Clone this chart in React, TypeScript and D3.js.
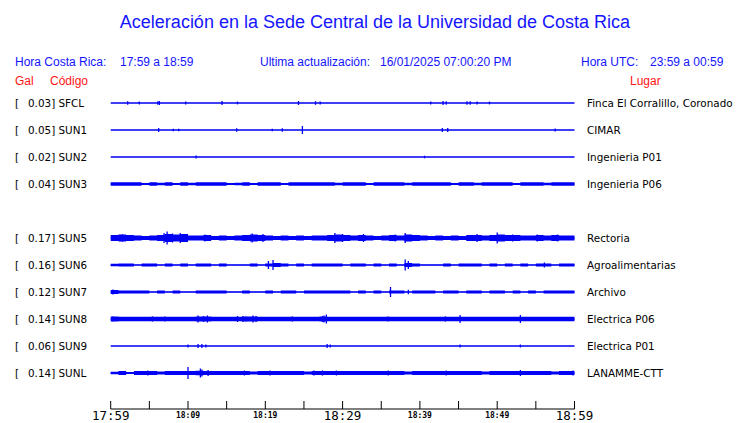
import React from 'react'
import * as d3 from 'd3'

// ---- data ----
const title = 'Aceleración en la Sede Central de la Universidad de Costa Rica'
const localRange = '17:59 a 18:59'
const utcRange = '23:59 a 00:59'
const lastUpdate = '16/01/2025 07:00:20 PM'

// every slot on the sheet, SUN4 has no trace today
const stationSlots = ['SFCL', 'SUN1', 'SUN2', 'SUN3', 'SUN4', 'SUN5', 'SUN6', 'SUN7', 'SUN8', 'SUN9', 'SUNL']
const codes = ['SFCL', 'SUN1', 'SUN2', 'SUN3', 'SUN5', 'SUN6', 'SUN7', 'SUN8', 'SUN9', 'SUNL']
const peakGal = [0.03, 0.05, 0.02, 0.04, 0.17, 0.16, 0.12, 0.14, 0.06, 0.14]
const places = [
  'Finca El Corralillo, Coronado',
  'CIMAR',
  'Ingenieria P01',
  'Ingenieria P06',
  'Rectoria',
  'Agroalimentarias',
  'Archivo',
  'Electrica P06',
  'Electrica P01',
  'LANAMME-CTT',
]

// quiet level of each trace (relative amplitude)
const baseAmp = [0.75, 0.75, 0.75, 0.75, 0.75, 0.6, 0.6, 0.75, 0.75, 0.75]

// per-minute envelopes (relative amplitude), only for the noisy traces
const envSUN3 = [
  1.8, 1.7, 1.7, 1.7, 1.1, 1.7, 1.3, 1.7, 1.1, 1.7, 1.3, 1.7, 1.7, 1.7, 1.7, 1.1, 1.3, 1.7, 1.1, 1.7,
  1.7, 1.7, 1.1, 1.7, 1.7, 1.7, 1.7, 1.7, 1.7, 1.3, 1.7, 1.7, 1.7, 1.1, 1.7, 1.7, 1.7, 1.7, 1.3, 1.7,
  1.7, 1.7, 1.7, 1.7, 1.1, 1.7, 1.7, 1.3, 1.7, 1.7, 1.7, 1.7, 1.1, 1.7, 1.7, 1.7, 1.3, 1.7, 1.7, 1.7,
]
const envSUN5 = [
  3.0, 3.5, 3.0, 2.5, 2.0, 2.5, 3.0, 4.0, 3.5, 4.0, 2.5, 2.5, 3.0, 2.0, 2.5, 2.0, 2.5, 3.0, 3.5, 3.0,
  2.5, 2.0, 2.5, 2.0, 2.5, 2.0, 2.5, 2.5, 3.0, 3.5, 3.0, 2.5, 3.0, 2.5, 2.0, 2.5, 3.0, 2.5, 3.5, 3.0,
  2.5, 2.0, 2.5, 2.0, 2.5, 2.0, 3.0, 3.0, 2.5, 3.0, 3.5, 3.0, 3.0, 2.5, 2.5, 3.0, 2.5, 3.0, 2.5, 2.5,
]
const envSUN6 = [
  1.3, 1.5, 1.5, 0.6, 1.5, 1.5, 0.6, 1.5, 0.6, 1.5, 0.6, 1.5, 1.5, 0.6, 1.5, 0.6, 0.6, 0.6, 1.5, 0.6,
  1.5, 2.0, 1.5, 0.6, 1.5, 0.6, 1.5, 1.5, 1.5, 1.5, 0.6, 1.5, 1.5, 0.6, 1.5, 0.6, 1.5, 0.6, 2.0, 1.5,
  0.6, 0.6, 0.6, 1.5, 0.6, 1.5, 1.5, 1.5, 0.6, 1.5, 0.6, 1.5, 0.6, 1.5, 0.6, 1.5, 1.5, 0.6, 1.5, 1.5,
]
const envSUN7 = [
  2.0, 1.6, 1.6, 1.6, 1.6, 0.6, 1.6, 0.6, 1.6, 0.6, 0.6, 1.6, 1.6, 1.6, 1.6, 0.6, 0.6, 1.6, 0.6, 0.6,
  1.6, 0.6, 1.6, 1.6, 0.6, 1.6, 1.6, 1.6, 1.6, 1.6, 1.6, 0.6, 1.6, 0.6, 1.6, 0.6, 1.6, 1.6, 0.6, 1.6,
  1.6, 1.6, 0.6, 1.6, 1.6, 0.6, 1.6, 1.6, 0.6, 1.6, 1.6, 0.6, 1.6, 0.6, 1.6, 0.6, 1.6, 1.6, 1.6, 1.6,
]
const envSUN8 = [
  2.4, 2.2, 2.2, 2.2, 2.2, 2.3, 2.2, 2.2, 2.2, 2.2, 2.2, 2.4, 2.4, 2.2, 2.2, 2.2, 2.3, 2.4, 2.4, 2.2,
  2.2, 2.2, 2.2, 2.3, 2.2, 2.2, 2.2, 2.4, 2.2, 2.2, 2.2, 2.2, 2.2, 2.2, 2.2, 2.2, 2.3, 2.2, 2.2, 2.2,
  2.2, 2.2, 2.3, 2.3, 2.2, 2.3, 2.2, 2.2, 2.2, 2.2, 2.2, 2.2, 2.3, 2.3, 2.2, 2.2, 2.2, 2.2, 2.2, 2.3,
]
const envSUNL = [
  1.2, 1.9, 1.1, 1.9, 1.9, 1.9, 1.5, 1.9, 1.9, 1.9, 2.1, 2.3, 2.1, 1.9, 1.9, 1.9, 1.9, 1.9, 1.5, 1.9,
  1.9, 1.9, 1.9, 1.9, 1.9, 1.5, 1.9, 2.1, 1.9, 1.9, 1.9, 1.9, 1.9, 1.9, 1.9, 1.9, 1.9, 1.9, 1.5, 1.9,
  1.9, 1.9, 1.9, 1.9, 1.9, 1.9, 1.9, 1.9, 1.5, 1.9, 1.9, 1.9, 1.9, 1.9, 1.9, 1.9, 1.9, 1.5, 1.9, 1.9,
]
const envelopes: Record<string, number[]> = {
  SUN3: envSUN3,
  SUN5: envSUN5,
  SUN6: envSUN6,
  SUN7: envSUN7,
  SUN8: envSUN8,
  SUNL: envSUNL,
}

// short bursts: [minute after 17:59, relative amplitude]
const spikes: Record<string, [number, number][]> = {
  SFCL: [[2.2, 1.8], [3.7, 1.5], [6.1, 1.8], [6.3, 2], [9.7, 1.4], [14.4, 2], [16.4, 1.4], [24.3, 2], [26.5, 1.8], [27.1, 1.6], [41.4, 1.4], [43.0, 2], [43.4, 1.8], [46.1, 1.8], [46.5, 1.8], [47.4, 1.6], [49.0, 1.4]],
  SUN1: [[6.2, 2], [8.1, 1.2], [8.8, 1.2], [16.3, 1.8], [20.9, 1.2], [22.2, 1.8], [24.8, 4], [42.9, 2], [43.6, 2], [57.5, 1.5]],
  SUN2: [[11.05, 1.5], [40.6, 1.3]],
  SUN3: [],
  SUN5: [[1.5, 3.8], [6.9, 5], [7.3, 6.5], [8.0, 4.5], [9.0, 5], [12.2, 3.5], [18.3, 4.5], [19.7, 4], [29.0, 5], [30.0, 4], [32.7, 4], [36.8, 3.5], [38.1, 5], [47.4, 4], [50.0, 5.5], [52.0, 3.5], [55.2, 3.5], [57.8, 3.5]],
  SUN6: [[20.4, 4], [21.0, 5], [38.1, 5.5], [38.5, 4], [56.1, 2.5]],
  SUN7: [[0.3, 2.5], [36.2, 5], [38.5, 2.2]],
  SUN8: [[0.3, 2.6], [5.4, 2.6], [7.0, 2.6], [11.3, 3.5], [12.0, 3], [12.5, 3.5], [16.4, 3], [17.1, 3], [17.5, 2.6], [18.4, 3.5], [18.8, 3], [23.5, 2.6], [27.4, 3], [27.6, 3.5], [27.9, 4.5], [35.9, 2.6], [43.3, 2.6], [45.2, 4], [53.0, 4]],
  SUN9: [[10.0, 1.5], [11.3, 2], [11.8, 2], [12.3, 1.5], [28.0, 2], [28.4, 1.5], [45.2, 1.5], [53.0, 1.5]],
  SUNL: [[4.8, 2.4], [10.0, 6], [11.6, 4.5], [11.8, 3.5], [12.6, 3], [17.3, 2.5], [20.6, 2.4], [26.3, 2.5], [27.4, 2.6], [29.2, 2.5], [35.9, 2.5], [43.4, 2.5], [53.0, 3], [59.8, 2.5]],
}

const startTime = new Date(2025, 0, 16, 17, 59)
const endTime = new Date(2025, 0, 16, 18, 59)
const tickStepMinutes = 5
const labelStepMinutes = 10
const majorStepMinutes = 30

// ---- layout ----
const W = 740
const H = 423
const BLUE = '#1414ff'
const TRACE = '#0000f5'
const RED = '#ff1414'
const SANS = '"Liberation Sans", Arial, sans-serif'
const DEJAVU = '"DejaVu Sans", sans-serif'
const MONO = '"DejaVu Sans Mono", monospace'

const App: React.FC = () => {
  const x = d3.scaleTime().domain([startTime, endTime]).range([110.7, 574.5])
  const xMin = d3.scaleLinear().domain([0, 60]).range([110.7, 574.5])
  const y = d3.scalePoint<string>().domain(stationSlots).range([103, 373])
  const amp = d3.scaleLinear().domain([0, 10]).range([0, 10])
  const fmt = d3.timeFormat('%H:%M')

  const tickOffsets = d3.range(0, 61, tickStepMinutes)
  const axisY = 409

  return (
    <svg
      width={W}
      height={H}
      style={{ position: 'absolute', left: 0, top: 0, background: '#fff' }}
    >
      <text x={375} y={28} textAnchor="middle" fontFamily={SANS} fontSize={18} fill={BLUE}>
        {title}
      </text>

      <g fontFamily={SANS} fontSize={12} fill={BLUE}>
        <text x={15} y={66}>Hora Costa Rica:</text>
        <text x={120} y={66}>{localRange}</text>
        <text x={260} y={66}>Ultima actualización:</text>
        <text x={380} y={66}>{lastUpdate}</text>
        <text x={581} y={66}>Hora UTC:</text>
        <text x={650} y={66}>{utcRange}</text>
      </g>
      <g fontFamily={SANS} fontSize={12} fill={RED}>
        <text x={15} y={85}>Gal</text>
        <text x={50} y={85}>Código</text>
        <text x={630} y={85}>Lugar</text>
      </g>

      {codes.map((code, i) => {
        const yc = y(code) as number
        const env = envelopes[code]
        const area = d3
          .area<number>()
          .x((_, j) => xMin(j))
          .y0((d) => yc + amp(d))
          .y1((d) => yc - amp(d))
          .curve(d3.curveStepAfter)
        return (
          <g key={code}>
            <text x={15} y={yc + 4} fontFamily={DEJAVU} fontSize={10.4} fill="#000">
              [
            </text>
            <text x={28} y={yc + 4} fontFamily={DEJAVU} fontSize={10.4} fill="#000">
              {`${peakGal[i].toFixed(2)}] ${code}`}
            </text>
            <rect
              x={xMin(0)}
              y={yc - amp(baseAmp[i])}
              width={xMin(60) - xMin(0)}
              height={2 * amp(baseAmp[i])}
              fill={TRACE}
            />
            {env && <path d={area([...env, env[env.length - 1]]) || ''} fill={TRACE} />}
            {spikes[code].map(([m, a], k) => (
              <line
                key={k}
                x1={xMin(m)}
                x2={xMin(m)}
                y1={yc - amp(a)}
                y2={yc + amp(a)}
                stroke={TRACE}
                strokeWidth={1.3}
              />
            ))}
            <text x={587} y={yc + 4} fontFamily={DEJAVU} fontSize={10.4} fill="#000">
              {places[i]}
            </text>
          </g>
        )
      })}

      <g>
        <line x1={x(startTime)} x2={x(endTime)} y1={axisY} y2={axisY} stroke="#000" />
        {tickOffsets.map((minute) => {
          const t = d3.timeMinute.offset(startTime, minute)
          const tx = x(t)
          const labelled = minute % labelStepMinutes === 0
          const major = minute % majorStepMinutes === 0
          return (
            <g key={minute}>
              <line x1={tx} x2={tx} y1={axisY - 8} y2={axisY} stroke="#000" />
              {labelled && (
                <text
                  x={tx}
                  y={major ? 420 : 418}
                  textAnchor="middle"
                  fontFamily={MONO}
                  fontSize={major ? 12.5 : 8}
                  fontWeight={major ? 'normal' : 'bold'}
                  fill="#000"
                >
                  {fmt(t)}
                </text>
              )}
            </g>
          )
        })}
      </g>
    </svg>
  )
}

export default App
